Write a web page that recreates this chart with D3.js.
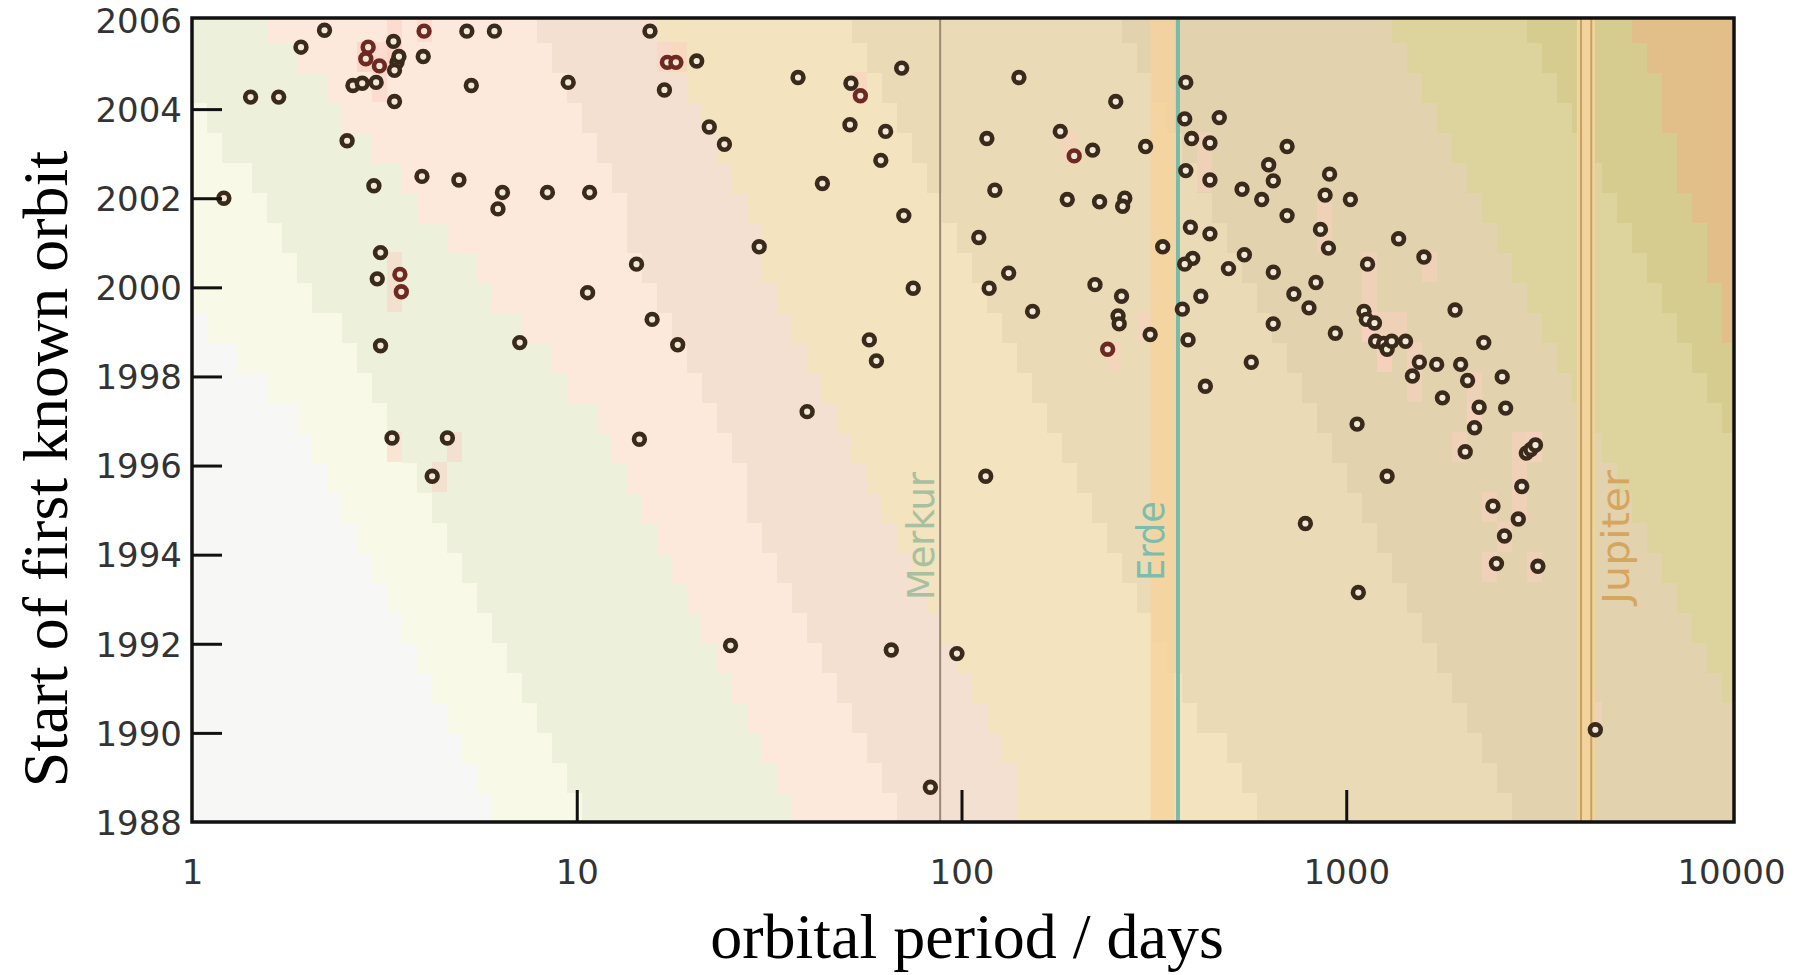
<!DOCTYPE html>
<html>
<head>
<meta charset="utf-8">
<title>Orbital period vs start of first known orbit</title>
<script src="https://cdn.jsdelivr.net/npm/d3@7"></script>
<style>
  body { margin: 0; background: #fff; }
  .tick text { font-family: "DejaVu Sans", sans-serif; }
</style>
</head>
<body>
<script>

// orbital period (days) and first year of the known orbit
var period = [1.21, 1.42, 1.68, 1.92, 2.21, 2.53, 2.62, 2.77, 2.87, 2.83,
  3.01, 3.07, 2.97, 3.09, 3.03, 3.09, 3.34, 3.41, 3.45, 3.36,
  3.36, 3.47, 3.50, 3.31, 4.01, 3.99, 3.96, 4.21, 4.61, 4.94,
  5.18, 5.32, 6.11, 6.41, 6.24, 7.11, 8.39, 9.5, 10.8, 10.67,
  14.3, 14.55, 15.5, 15.7, 17.2, 18.1, 16.9, 18.3, 20.5, 22.1,
  24.2, 25.1, 29.8, 37.6, 39.7, 43.5, 51.6, 54.6, 51.3, 63.5,
  61.7, 57.6, 60.1, 69.9, 70.8, 74.9, 65.7, 83.0, 97.3, 110.9,
  116.4, 118, 122.1, 115.6, 132.6, 141, 153, 180.6, 196.3, 188.3,
  219.2, 222.3, 228.5, 239.8, 251.7, 260.6, 255.2, 257, 265.7, 262.3,
  300.9, 309.3, 333.4, 382.8, 380.3, 396.3, 382.8, 393.5, 399, 380.3,
  375, 388, 430.3, 418.8, 442.3, 442.3, 442.3, 467.7, 494.2, 536,
  543.5, 566.5, 603, 628.6, 646.3, 646.3, 646, 701.8, 701.8, 731,
  783, 800, 834, 857, 881, 905, 899, 937, 1025, 1067,
  1075, 1112, 1128, 1136, 1184, 1192, 1251, 1277, 1277, 1313,
  1368, 1426, 1486, 1549, 1592, 1718, 1778, 1918, 1983, 2067,
  2038, 2155, 2215, 2277, 2406, 2457, 2543, 2578, 2596, 2800,
  2858, 2938, 3018, 3103, 3148, 4440];

var startYear = [2002.0, 2004.27, 2004.27, 2005.39, 2005.77, 2003.29, 2004.53, 2004.58, 2005.39, 2005.13,
  2004.6, 2004.97, 2002.28, 2000.78, 2000.19, 1998.69, 2005.52, 2005.05, 2005.18, 2004.87,
  2004.17, 2000.29, 1999.9, 1996.62, 2005.75, 2005.18, 2002.49, 1995.76, 1996.62, 2002.41,
  2005.75, 2004.53, 2005.75, 2002.13, 2001.76, 1998.76, 2002.13, 2004.6, 2002.13, 1999.88,
  2000.52, 1996.59, 2005.75, 1999.28, 2005.05, 2005.05, 2004.43, 1998.71, 2005.08, 2003.6,
  2003.21, 1991.96, 2000.91, 2004.71, 1997.21, 2002.33, 2004.58, 2004.3, 2003.65, 2003.5,
  2002.85, 1998.82, 1998.35, 2004.92, 2001.61, 1999.98, 1991.86, 1988.78, 1991.78, 2001.12,
  2003.34, 1999.98, 2002.18, 1995.76, 2000.32, 2004.71, 1999.46, 2003.5, 2002.95, 2001.97,
  2003.08, 2000.06, 2001.92, 1998.61, 2004.17, 1999.8, 1999.36, 1999.18, 2002.0, 2001.82,
  2003.16, 1998.94, 2000.91, 2004.6, 2003.78, 2003.34, 2002.62, 2001.35, 2000.65, 2000.52,
  1999.51, 1998.82, 1997.78, 1999.8, 2003.24, 2002.41, 2001.2, 2003.81, 2000.42, 2002.2,
  2000.73, 1998.32, 2001.97, 2002.75, 2002.39, 2000.34, 1999.18, 2003.16, 2001.61, 1999.85,
  1994.7, 1999.54, 2000.11, 2001.3, 2002.07, 2002.54, 2000.88, 1998.97, 2001.97, 1996.93,
  1993.15, 1999.46, 1999.28, 2000.52, 1999.2, 1998.79, 1998.74, 1995.76, 1998.61, 1998.79,
  2001.09, 1998.79, 1998.01, 1998.32, 2000.68, 1998.27, 1997.52, 1999.49, 1998.27, 1997.91,
  1996.31, 1996.85, 1997.31, 1998.76, 1995.09, 1993.8, 1997.99, 1994.42, 1997.29, 1994.8,
  1995.53, 1996.28, 1996.36, 1996.46, 1993.74, 1990.07];

// points drawn with a reddish ring
var reddish = [8, 9, 11, 21, 22, 24, 44, 45, 57, 78, 83];
// points sitting on a pink background square
var pinkCell = [8, 9, 10, 11, 16, 17, 18, 19, 21, 22, 23, 24, 27, 28, 44, 45, 57, 78, 83, 91,
  104, 105, 123, 124, 131, 132, 133, 134, 135, 136, 138, 139, 141, 142, 143, 144,
  149, 150, 151, 152, 154, 155, 157, 159, 160, 161, 162, 163, 164, 165];

var xTicks = [1, 10, 100, 1000, 10000];
var yTicks = [1988, 1990, 1992, 1994, 1996, 1998, 2000, 2002, 2004, 2006];

// planets marked with a vertical line (period in days)
var planets = ["Merkur", "Erde", "Jupiter"];
var planetPeriod = [88, 365.25, 4333];

// background bands: period of each band edge at 1988, 1997 and 2006
var edgeYears = [1988, 1997, 2006];
var bandEdges = [
  [6.17, 1.99, 0.15],
  [10.3, 3.37, 0.77],
  [37.1, 11.5, 1.58],
  [70.5, 22.6, 8.03],
  [151.6, 48.9, 15.8],
  [590, 172, 49.8],
  [2762, 830, 249],
  [14665, 4405, 1323],
  [33100, 9940, 2985],
  [23820, 11610, 5630]
];
var bandColors = ["#f7f7f5", "#f8f9e6", "#edf0da", "#fce9dc", "#f3e0d0", "#f3e3be",
  "#eadab6", "#e2d2ad", "#ddd39c", "#d6cc90", "#e2be89"];

var W = 1804, H = 975;
var mLeft = 192, mRight = 1734, mTop = 18, mBottom = 822;

var svg = d3.select("body").append("svg")
  .attr("width", W)
  .attr("height", H);

var x = d3.scaleLog().domain([1, 10000]).range([mLeft, 1731]);
var y = d3.scaleLinear().domain([1988, 2006]).range([mBottom, 20]);

svg.append("clipPath").attr("id", "plotclip")
  .append("rect")
  .attr("x", mLeft).attr("y", mTop)
  .attr("width", mRight - mLeft).attr("height", mBottom - mTop);

var plot = svg.append("g").attr("clip-path", "url(#plotclip)");

//background cells
function edgeAt(edge, yr) {
  var lp = edgeYears.map(function(d, i){ return Math.log10(edge[i]); });
  if (yr <= edgeYears[1]) {
    var t = (yr - edgeYears[0]) / (edgeYears[1] - edgeYears[0]);
    return lp[0] + t * (lp[1] - lp[0]);
  }
  var t2 = (yr - edgeYears[1]) / (edgeYears[2] - edgeYears[1]);
  return lp[1] + t2 * (lp[2] - lp[1]);
}

var cw = 15, ch = 30;
var cells = [];
d3.range(mLeft, mRight, cw).forEach(function(cx){
  d3.range(mBottom - ch, mTop - ch, -ch).forEach(function(cy){
    var p = Math.log10(x.invert(cx + cw / 2));
    var yr = y.invert(cy + ch / 2);
    var band = 0;
    bandEdges.forEach(function(e){ if (p > edgeAt(e, yr)) band++; });
    cells.push({x: cx, y: cy, band: band});
  });
});

plot.selectAll("rect.cell")
  .data(cells)
  .enter()
  .append("rect")
  .attr("class", "cell")
  .attr("x", function(d){ return d.x; })
  .attr("y", function(d){ return d.y; })
  .attr("width", cw + 0.5)
  .attr("height", ch + 0.5)
  .attr("fill", function(d){ return bandColors[d.band]; })
  .attr("shape-rendering", "crispEdges");

// pink squares behind some points (snapped to the cell grid)
plot.selectAll("rect.pink")
  .data(pinkCell)
  .enter()
  .append("rect")
  .attr("class", "pink")
  .attr("x", function(i){ return mLeft + Math.floor((x(period[i]) - mLeft) / cw) * cw; })
  .attr("y", function(i){ return mBottom - Math.ceil((mBottom - y(startYear[i])) / ch) * ch; })
  .attr("width", cw)
  .attr("height", ch)
  .attr("fill", "#fbcfc2")
  .attr("opacity", 0.5)
  .attr("shape-rendering", "crispEdges");

// Erde: orange strip left of the line
plot.append("rect")
  .attr("x", x(310)).attr("y", mTop)
  .attr("width", x(358) - x(310)).attr("height", mBottom - mTop)
  .attr("fill", "#f6d29c").attr("opacity", 0.8);

// Jupiter: light band with two lines
plot.append("rect")
  .attr("x", x(3975)).attr("y", mTop)
  .attr("width", x(4430) - x(3975)).attr("height", mBottom - mTop)
  .attr("fill", "#f1d49c");
[4075, planetPeriod[2]].forEach(function(p){
  plot.append("line")
    .attr("x1", x(p)).attr("x2", x(p))
    .attr("y1", mTop).attr("y2", mBottom)
    .attr("stroke", "#c9a064").attr("stroke-width", 2);
});

plot.append("line")
  .attr("x1", x(planetPeriod[0])).attr("x2", x(planetPeriod[0]))
  .attr("y1", mTop).attr("y2", mBottom)
  .attr("stroke", "#9c8877").attr("stroke-width", 2);

plot.append("line")
  .attr("x1", x(planetPeriod[1])).attr("x2", x(planetPeriod[1]))
  .attr("y1", mTop).attr("y2", mBottom)
  .attr("stroke", "#78bba6").attr("stroke-width", 4);

// planet names
var planetColors = ["#a6c0a0", "#7cbdab", "#d6a55e"];
var planetDx = [-6, -14, 38];
var planetLen = [128, 80, 134];
var planetY = [536, 541, 537];
planets.forEach(function(name, i){
  var px = x(planetPeriod[i]) + planetDx[i];
  svg.append("text")
    .attr("transform", "translate(" + px + "," + planetY[i] + ") rotate(-90)")
    .attr("text-anchor", "middle")
    .attr("font-family", "DejaVu Sans, sans-serif")
    .attr("font-size", 37)
    .attr("textLength", planetLen[i])
    .attr("lengthAdjust", "spacingAndGlyphs")
    .attr("fill", planetColors[i])
    .text(name);
});

// Cria os pontos
var pts = period.map(function(p, i){
  return {p: p, yr: startYear[i], red: reddish.indexOf(i) >= 0};
});

plot.selectAll("circle")
  .data(pts)
  .enter()
  .append("circle")
  .attr("cx", function(d){ return x(d.p); })
  .attr("cy", function(d){ return y(d.yr); })
  .attr("r", 5.4)
  .attr("fill", "#f1e9d6")
  .attr("stroke", function(d){ return d.red ? "#6e2a22" : "#3a2a1c"; })
  .attr("stroke-width", 4.6);

// axes: inward ticks
var xAxis = d3.axisBottom(x)
  .tickValues(xTicks)
  .tickFormat(d3.format("d"))
  .tickSize(-32)
  .tickPadding(26);

var yAxis = d3.axisLeft(y)
  .tickValues(yTicks)
  .tickFormat(d3.format("d"))
  .tickSize(-30)
  .tickPadding(40);

var gx = svg.append("g")
  .attr("transform", "translate(0," + mBottom + ")")
  .call(xAxis);
var gy = svg.append("g")
  .attr("transform", "translate(" + mLeft + ",0)")
  .call(yAxis);

[gx, gy].forEach(function(g){
  g.select(".domain").remove();
  g.selectAll(".tick line").attr("stroke", "#111").attr("stroke-width", 3);
  g.selectAll(".tick text")
    .attr("font-size", 34)
    .attr("fill", "#333");
});
gx.selectAll(".tick text").attr("dy", "1.05em");
gy.selectAll(".tick text").attr("x", -10).attr("dy", "0.36em");
// no tick marks at the corners
gx.selectAll(".tick line").filter(function(d){ return d == 1 || d == 10000; }).remove();
gy.selectAll(".tick line").filter(function(d){ return d == 1988 || d == 2006; }).remove();

// frame
svg.append("rect")
  .attr("x", mLeft).attr("y", mTop)
  .attr("width", mRight - mLeft).attr("height", mBottom - mTop)
  .attr("fill", "none")
  .attr("stroke", "#111")
  .attr("stroke-width", 3.5);

// axis titles
svg.append("text")
  .attr("x", 967).attr("y", 958)
  .attr("text-anchor", "middle")
  .attr("font-family", "Liberation Serif, Times New Roman, serif")
  .attr("font-size", 64)
  .attr("fill", "#000")
  .text("orbital period / days");

svg.append("text")
  .attr("transform", "translate(67,469) rotate(-90)")
  .attr("text-anchor", "middle")
  .attr("font-family", "Liberation Serif, Times New Roman, serif")
  .attr("font-size", 64)
  .attr("fill", "#000")
  .text("Start of first known orbit");

</script>
</body>
</html>
